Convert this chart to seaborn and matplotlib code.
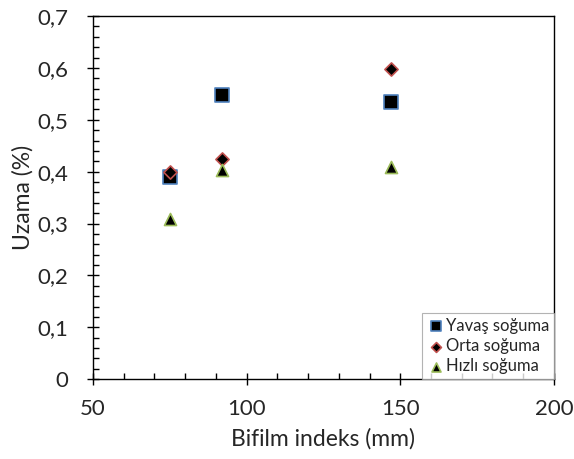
import matplotlib
matplotlib.use("Agg")
import matplotlib.pyplot as plt
import seaborn as sns
import pandas as pd
from matplotlib.ticker import MultipleLocator, FuncFormatter

x_vals = [75, 92, 147]
yavas = [0.39, 0.548, 0.534]
orta = [0.40, 0.425, 0.597]
hizli = [0.309, 0.403, 0.409]

series_names = ["Yavaş soğuma", "Orta soğuma", "Hızlı soğuma"]
series_vals = [yavas, orta, hizli]
markers = ["s", "D", "^"]
edges = ["#4f81bd", "#c0504d", "#9bbb59"]
sizes = [90, 45, 75]

sns.set_style("white")
plt.rcParams['font.family'] = ['Lato', 'DejaVu Sans']

fig = plt.figure(figsize=(5.74, 4.59), dpi=100)
ax = fig.add_axes([0.162, 0.174, 0.803, 0.791])

for name, vals, m, ec, s in zip(series_names, series_vals, markers, edges, sizes):
    df = pd.DataFrame({"x": x_vals, "y": vals})
    sns.scatterplot(data=df, x="x", y="y", marker=m, color="black",
                    edgecolor=ec, linewidth=1.2, s=s, label=name, ax=ax, zorder=3)

ax.set_xlim(50, 200)
ax.set_ylim(0, 0.7)
ax.xaxis.set_major_locator(MultipleLocator(50))
ax.xaxis.set_minor_locator(MultipleLocator(10))
ax.yaxis.set_major_locator(MultipleLocator(0.1))
ax.yaxis.set_minor_locator(MultipleLocator(0.02))
ax.yaxis.set_major_formatter(FuncFormatter(lambda v, p: ("%g" % round(v, 2)).replace(".", ",")))
ax.tick_params(which="major", direction="inout", length=9, width=1, colors="black",
               labelcolor="#262626", labelsize=16, bottom=True, left=True)
ax.tick_params(axis="x", which="major", pad=10)
ax.tick_params(axis="y", which="major", pad=13)
ax.tick_params(which="minor", direction="in", length=4, width=1, colors="black",
               bottom=True, left=True)
for sp in ax.spines.values():
    sp.set_color("black")
    sp.set_linewidth(1)
    sp.set_visible(True)

ax.set_xlabel("Bifilm indeks (mm)", fontsize=16.5, color="#262626", labelpad=6)
ax.set_ylabel("Uzama (%)", fontsize=16.5, color="#262626")
ax.yaxis.set_label_coords(-0.128, 0.5)

leg = ax.legend(loc="lower right", fontsize=12, frameon=True, fancybox=False,
                borderaxespad=0, handletextpad=0.1, borderpad=0.3, labelspacing=0.25,
                handlelength=1.0, markerscale=0.75)
leg.get_frame().set_edgecolor("#a0a0a0")
leg.get_frame().set_linewidth(0.8)

fig.savefig("out.png", dpi=100, facecolor="white")
